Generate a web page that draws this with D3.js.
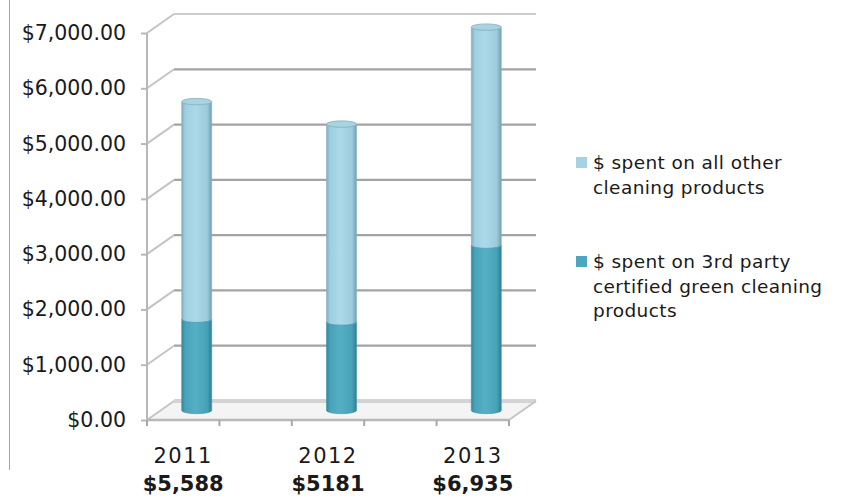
<!DOCTYPE html>
<html>
<head>
<meta charset="utf-8">
<script src="https://cdn.jsdelivr.net/npm/d3@7"></script>
<style>
  html, body { margin: 0; padding: 0; background: #fff; }
  svg { display: block; font-family: "DejaVu Sans", "Century Gothic", sans-serif; }
</style>
</head>
<body>
<svg id="chart" width="859" height="498"></svg>
<script>
// Yearly spend on cleaning products
const categories = ["2011", "2012", "2013"];
const greenSpend = [1650, 1600, 2990];   // 3rd party certified green products
const otherSpend = [3938, 3581, 3945];   // all other cleaning products
const totalLabels = ["$5,588", "$5181", "$6,935"];
const yTicks = [0, 1000, 2000, 3000, 4000, 5000, 6000, 7000];
const seriesNames = [
  ["$ spent on all other", "cleaning products"],
  ["$ spent on 3rd party", "certified green cleaning", "products"]
];

const svg = d3.select("#chart");
const defs = svg.append("defs");

// front plane of the 3D box, plus the depth offset to the back wall
const x = d3.scaleBand().domain(categories).range([147, 509]).paddingInner(0.5).paddingOuter(0);
const y = d3.scaleLinear().domain([0, 7000]).range([420, 33]);
const depthX = 27, depthY = -19;
const yMid = v => y(v) + depthY / 2;

// cylinder gradients
function cylGradient(id, stops) {
  const g = defs.append("linearGradient").attr("id", id).attr("x1", 0).attr("x2", 1).attr("y1", 0).attr("y2", 0);
  stops.forEach(([o, c]) => g.append("stop").attr("offset", o).attr("stop-color", c));
}
cylGradient("gOther", [[0, "#7eaebf"], [0.12, "#9fcfe0"], [0.45, "#acdaea"], [0.85, "#9ccbdc"], [1, "#6f9fb0"]]);
cylGradient("gGreen", [[0, "#33879b"], [0.12, "#48a3b9"], [0.45, "#55b0c6"], [0.85, "#47a1b7"], [1, "#2f7f93"]]);

const soft = defs.append("filter").attr("id", "soft");
soft.append("feGaussianBlur").attr("stdDeviation", 0.6);

// left border line
svg.append("line").attr("x1", 9.5).attr("x2", 9.5).attr("y1", 0).attr("y2", 470)
  .attr("stroke", "#a6a6a6").attr("stroke-width", 1);

const [x0, x1] = x.range();

// floor
svg.append("path")
  .attr("d", `M${x0},${y(0)} L${x1},${y(0)} L${x1 + depthX},${y(0) + depthY} L${x0 + depthX},${y(0) + depthY} Z`)
  .attr("fill", "#f4f4f4");

// back wall gridlines and side wall diagonals
const grid = svg.append("g").attr("filter", "url(#soft)");
yTicks.forEach(t => {
  const top = t === 7000;
  const floor = t === 0;
  grid.append("line")
    .attr("x1", x0 + depthX).attr("x2", x1 + depthX)
    .attr("y1", y(t) + depthY).attr("y2", y(t) + depthY)
    .attr("stroke", floor ? "#d4d4d4" : top ? "#cccccc" : "#a3a3a3")
    .attr("stroke-width", floor ? 4 : 2.2);
  grid.append("line")
    .attr("x1", x0).attr("y1", y(t))
    .attr("x2", x0 + depthX).attr("y2", y(t) + depthY)
    .attr("stroke", "#c4c4c4").attr("stroke-width", 2);
});
// floor right edge
grid.append("line")
  .attr("x1", x1).attr("y1", y(0)).attr("x2", x1 + depthX).attr("y2", y(0) + depthY)
  .attr("stroke", "#c4c4c4").attr("stroke-width", 2);

// value axis (front left edge)
const yAxis = svg.append("g").attr("transform", `translate(${x0},0)`)
  .call(d3.axisLeft(y).tickValues(yTicks).tickSize(6).tickPadding(15).tickFormat(d3.format("$,.2f")));
yAxis.select(".domain").attr("stroke", "#b8b8b8").attr("stroke-width", 2).attr("d", `M0,${y(0)}V${y(7000)}`);
yAxis.selectAll(".tick line").attr("stroke", "#b8b8b8").attr("stroke-width", 2);
yAxis.selectAll(".tick text").attr("fill", "#1a1a1a").style("font-size", "20.5px")
  .style("font-family", "'DejaVu Sans', sans-serif");

// category axis (front floor edge), ticks at band boundaries
const xAxis = svg.append("g");
xAxis.append("line").attr("x1", x0).attr("x2", x1).attr("y1", y(0)).attr("y2", y(0))
  .attr("stroke", "#b8b8b8").attr("stroke-width", 2.5);
const edges = [];
categories.forEach(c => { edges.push(x(c)); edges.push(x(c) + x.bandwidth()); });
xAxis.selectAll("line.tick").data(edges).join("line").attr("class", "tick")
  .attr("x1", d => d).attr("x2", d => d).attr("y1", y(0)).attr("y2", y(0) + 6)
  .attr("stroke", "#a8a8a8").attr("stroke-width", 2);

// cylinders
const cylW = 30, ry = 3.2;
function sidePath(cx, yTop, yBot) {
  const l = cx - cylW / 2, r = cx + cylW / 2, rx = cylW / 2;
  return `M${l},${yTop} A${rx},${ry} 0 0 0 ${r},${yTop} L${r},${yBot} A${rx},${ry} 0 0 1 ${l},${yBot} Z`;
}
const bars = svg.append("g");
categories.forEach((c, i) => {
  const cx = x(c) + x.bandwidth() / 2 + depthX / 2;
  const g0 = 0, g1 = greenSpend[i], o1 = greenSpend[i] + otherSpend[i];
  bars.append("path").attr("d", sidePath(cx, yMid(o1), yMid(g1)))
    .attr("fill", "url(#gOther)").attr("stroke", "#86b3c3").attr("stroke-width", 0.6);
  bars.append("path").attr("d", sidePath(cx, yMid(g1), yMid(g0)))
    .attr("fill", "url(#gGreen)").attr("stroke", "#3f93a8").attr("stroke-width", 0.6);
  bars.append("ellipse").attr("cx", cx).attr("cy", yMid(o1)).attr("rx", cylW / 2).attr("ry", ry)
    .attr("fill", "#a9d3e1").attr("stroke", "#86b1c0").attr("stroke-width", 0.8);
});

// category labels and yearly totals
const labels = svg.append("g").attr("text-anchor", "middle").attr("fill", "#1a1a1a");
categories.forEach((c, i) => {
  const cx = x(c) + x.bandwidth() / 2;
  labels.append("text").attr("x", cx).attr("y", 463).style("font-size", "21px")
    .style("letter-spacing", "1.5px").text(c);
  labels.append("text").attr("x", cx).attr("y", 491).style("font-size", "21px").style("font-weight", "bold")
    .text(totalLabels[i]);
});

// legend
const legendColors = ["#a6d3e3", "#4aa7bd"];
const legendTop = [163, 262];
const legend = svg.append("g").style("font-size", "18.5px").style("letter-spacing", "0.4px").attr("fill", "#1a1a1a");
seriesNames.forEach((lines, i) => {
  legend.append("rect").attr("x", 576).attr("y", legendTop[i] - 6).attr("width", 11).attr("height", 11)
    .attr("fill", legendColors[i]);
  lines.forEach((ln, j) => {
    legend.append("text").attr("x", 593).attr("y", legendTop[i] + j * 24.5).attr("dy", "0.35em").text(ln);
  });
});
</script>
</body>
</html>
